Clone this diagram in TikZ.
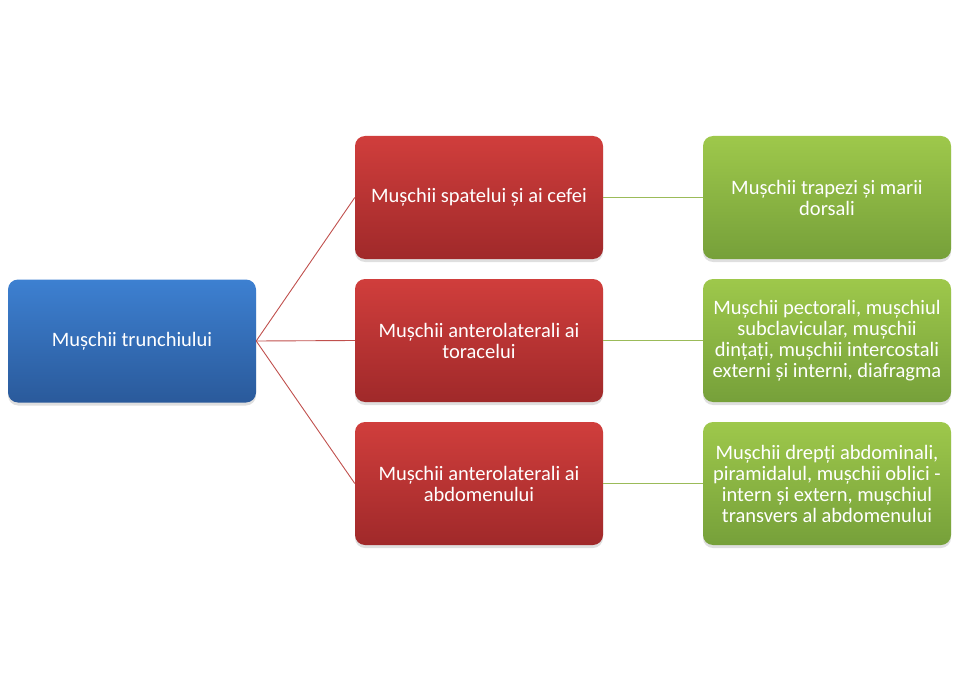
\documentclass[tikz,border=0pt]{standalone}
\usepackage{fontspec}
\setmainfont{Carlito}
\usetikzlibrary{shadows}
\definecolor{blueTop}{HTML}{3D80D1}
\definecolor{blueBot}{HTML}{2A5A9B}
\definecolor{redTop}{HTML}{D03E3C}
\definecolor{redBot}{HTML}{A0292A}
\definecolor{greenTop}{HTML}{9EC84B}
\definecolor{greenBot}{HTML}{76A03A}
\definecolor{redLine}{HTML}{C0504D}
\definecolor{greenLine}{HTML}{9BBB59}
\begin{document}
\begin{tikzpicture}[x=1pt,y=-1pt,
  box/.style={rounded corners=10pt, minimum width=248pt, minimum height=123pt,
    text width=238pt, inner xsep=5pt, inner ysep=0pt, align=flush center, text=white,
    font=\fontsize{20.5}{21}\selectfont,
    drop shadow={shadow xshift=0pt, shadow yshift=-3pt, opacity=0.25}},
  rootbox/.style={box, top color=blueTop, bottom color=blueBot},
  midbox/.style={box, top color=redTop, bottom color=redBot},
  leafbox/.style={box, top color=greenTop, bottom color=greenBot},
  redlink/.style={draw=redLine, line width=0.9pt},
  greenlink/.style={draw=greenLine, line width=0.9pt}]
\useasboundingbox (0,0) rectangle (959,682);

\node[rootbox] (trunchi) at (132,341) {Mușchii trunchiului};

\node[midbox] (spate) at (479,197.5) {Mușchii spatelui și ai cefei};
\node[midbox] (torace) at (479,340.5) {Mușchii anterolaterali ai toracelui};
\node[midbox] (abdomen) at (479,483.5) {Mușchii anterolaterali ai abdomenului};

\node[leafbox] (trapezi) at (827,197.5) {Mușchii trapezi și marii dorsali};
\node[leafbox] (pectorali) at (827,340.5) {Mușchii pectorali, mușchiul subclavicular, mușchii dințați, mușchii intercostali externi și interni, diafragma};
\node[leafbox] (drepti) at (827,483.5) {Mușchii drepți abdominali, piramidalul, mușchii oblici - intern și extern, mușchiul transvers al abdomenului};

\draw[redlink] (trunchi.east) -- (spate.west);
\draw[redlink] (trunchi.east) -- (torace.west);
\draw[redlink] (trunchi.east) -- (abdomen.west);
\draw[greenlink] (spate.east) -- (trapezi.west);
\draw[greenlink] (torace.east) -- (pectorali.west);
\draw[greenlink] (abdomen.east) -- (drepti.west);
\end{tikzpicture}
\end{document}
